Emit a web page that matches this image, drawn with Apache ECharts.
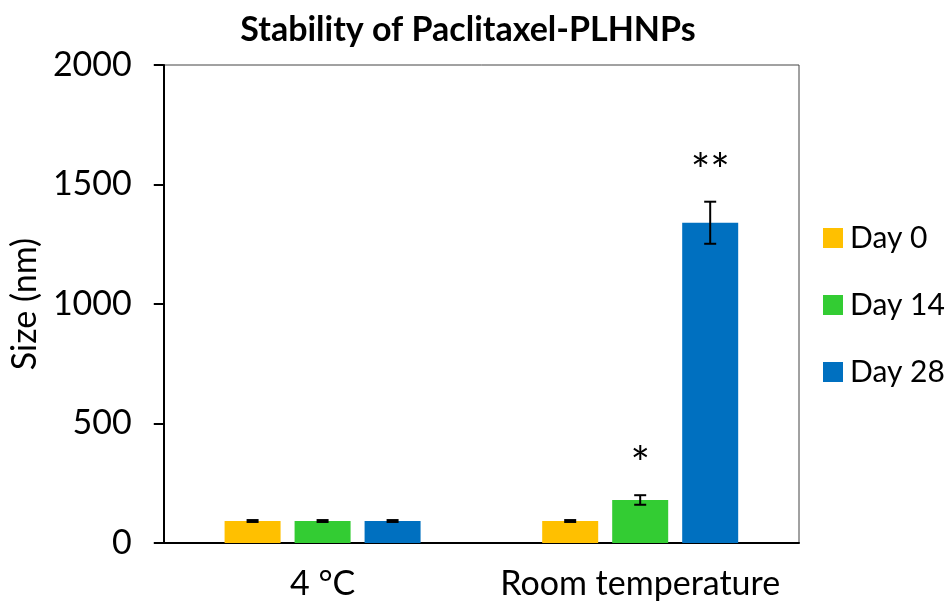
<!DOCTYPE html>
<html>
<head>
<meta charset="utf-8">
<script src="https://cdn.jsdelivr.net/npm/echarts@6/dist/echarts.min.js"></script>
<style>html,body{margin:0;padding:0;background:#fff}#c{width:952px;height:606px}</style>
</head>
<body>
<div id="c"></div>
<script>
var categories = ['4 °C', 'Room temperature'];
var seriesNames = ['Day 0', 'Day 14', 'Day 28'];
var day0 = [92, 92];
var day14 = [92, 180];
var day28 = [92, 1340];
var day0Err = [4, 4];
var day14Err = [4, 20];
var day28Err = [4, 88];
var day0Sig = ['', ''];
var day14Sig = ['', '*'];
var day28Sig = ['', '**'];
var yTicks = [0, 500, 1000, 1500, 2000];

var colors = ['#FFC000', '#33CC33', '#0070C0'];
var FONT = 'Lato, "Open Sans", sans-serif';
var values = [day0, day14, day28];
var errs = [day0Err, day14Err, day28Err];
var sigs = [day0Sig, day14Sig, day28Sig];

var chart = echarts.init(document.getElementById('c'));
var barWidth = 56, barGapPx = 14;

var series = [];
values.forEach(function (vals, si) {
  series.push({
    name: seriesNames[si], type: 'bar', data: vals,
    barWidth: barWidth, barGap: '25%', barCategoryGap: '38.5%',
    itemStyle: { color: colors[si] }
  });
});
values.forEach(function (vals, si) {
  series.push({
    type: 'custom', silent: true, z: 10,
    data: vals.map(function (v, i) { return [i, v, errs[si][i]]; }),
    renderItem: function (params, api) {
      var i = api.value(0), v = api.value(1), e = api.value(2);
      var base = api.coord([i, v]);
      var offset = (si - 1) * (barWidth + barGapPx);
      var x = base[0] + offset;
      var yTop = api.coord([i, v + e])[1];
      var yBot = api.coord([i, v - e])[1];
      var cap = 6;
      var style = { stroke: '#000', lineWidth: 2 };
      var children = [
        { type: 'line', shape: { x1: x, y1: yTop, x2: x, y2: yBot }, style: style },
        { type: 'line', shape: { x1: x - cap, y1: yTop, x2: x + cap, y2: yTop }, style: style },
        { type: 'line', shape: { x1: x - cap, y1: yBot, x2: x + cap, y2: yBot }, style: style }
      ];
      var s = sigs[si][i];
      if (s) {
        children.push({ type: 'text', style: { text: s, x: x, y: yTop - 30, align: 'center', verticalAlign: 'middle', font: '46px ' + FONT, fill: '#000' } });
      }
      return { type: 'group', children: children };
    }
  });
});

chart.setOption({
  animation: false,
  title: {
    text: 'Stability of Paclitaxel-PLHNPs', left: 463, top: 8, textAlign: 'center',
    textStyle: { fontFamily: FONT, fontWeight: 'bold', fontSize: 34, color: '#000' }
  },
  legend: {
    orient: 'vertical', left: 818, top: 218, itemWidth: 20, itemHeight: 20, itemGap: 37,
    data: seriesNames, icon: 'rect',
    textStyle: { fontFamily: FONT, fontSize: 30, color: '#000', padding: [0, 0, 0, 2] }
  },
  grid: { left: 162, right: 153, top: 65, bottom: 63, show: true, borderColor: '#444', borderWidth: 1 },
  xAxis: {
    type: 'category', data: categories,
    axisLine: { lineStyle: { color: '#000', width: 2 } },
    axisTick: { show: false },
    axisLabel: { interval: 0, fontFamily: FONT, fontSize: 34, color: '#000', margin: 24 }
  },
  yAxis: {
    type: 'value', min: yTicks[0], max: yTicks[yTicks.length - 1], interval: 500,
    name: 'Size (nm)', nameLocation: 'middle', nameGap: 120,
    nameTextStyle: { fontFamily: FONT, fontSize: 34, color: '#000' },
    axisLine: { show: true, lineStyle: { color: '#000', width: 2 } },
    axisTick: { show: true, length: 10, lineStyle: { color: '#000', width: 2 } },
    splitLine: { show: false },
    axisLabel: { fontFamily: FONT, fontSize: 34, color: '#000', margin: 32, formatter: function (v) { return String(v); } }
  },
  series: series
});
</script>
</body>
</html>
